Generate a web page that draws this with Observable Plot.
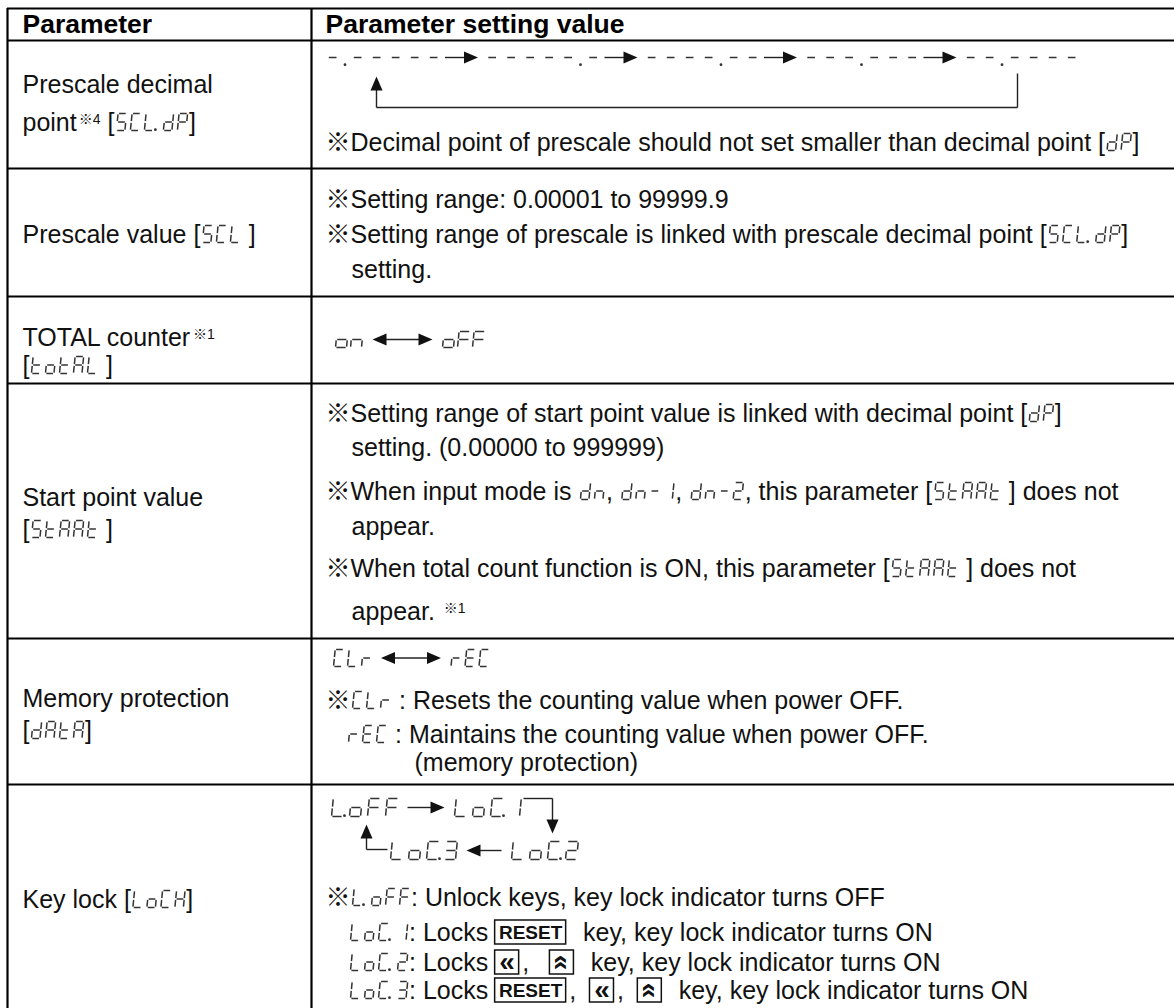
<!DOCTYPE html>
<html>
<head>
<meta charset="utf-8">
<script src="https://cdn.jsdelivr.net/npm/d3@7"></script>
<script src="https://cdn.jsdelivr.net/npm/@observablehq/plot@0.6"></script>
<style>
  html, body { margin: 0; padding: 0; background: #fff; }
  svg { display: block; }
</style>
</head>
<body>
<div id="chart"></div>
<script>
// ================= DATA (content only) =================
// Markup: {..} seven-segment display text, ^..^ superscript, <..> key box, → ← ↔ arrows
const headers = ["Parameter", "Parameter setting value"];

const parameterNames = [
  ["Prescale decimal", "point^※4^ [{5CL.dP}]"],
  ["Prescale value [{5CL }]"],
  ["TOTAL counter^※1^", "[{totAL }]"],
  ["Start point value", "[{5tARt }]"],
  ["Memory protection", "[{dAtA}]"],
  ["Key lock [{LoCK}]"]
];

const decimalPointSequence = ["-.-----", "-----.-", "----.--", "---.---", "--.----"];

const settingNotes = [
  ["※Decimal point of prescale should not set smaller than decimal point [{dP}]"],
  ["※Setting range: 0.00001 to 99999.9",
   "※Setting range of prescale is linked with prescale decimal point [{5CL.dP}]",
   "setting."],
  ["{on}↔{oFF}"],
  ["※Setting range of start point value is linked with decimal point [{dP}]",
   "setting. (0.00000 to 999999)",
   "※When input mode is {dn}, {dn-1}, {dn-2}, this parameter [{5tARt }] does not",
   "appear.",
   "※When total count function is ON, this parameter [{5tARt }] does not",
   "appear. ^※1^"],
  ["{CLr}↔{rEC}",
   "※{CLr }: Resets the counting value when power OFF.",
   "{rEC }: Maintains the counting value when power OFF.",
   "(memory protection)"],
  ["{L.oFF}→{LoC.1}",
   "{LoC.3}←{LoC.2}",
   "※{L.oFF}: Unlock keys, key lock indicator turns OFF",
   "{LoC.1}: Locks <RESET>  key, key lock indicator turns ON",
   "{LoC.2}: Locks <«>,   <︽>  key, key lock indicator turns ON",
   "{LoC.3}: Locks <RESET>,  <«>,  <︽>  key, key lock indicator turns ON"]
];

// seven-segment character map
const SEVEN = {"0":"abcdef","1":"bc","2":"abged","3":"abgcd","4":"fgbc","5":"afgcd","6":"afgedc","7":"abc","8":"abcdefg","9":"abcdfg",
  "A":"abcefg","R":"abcefg","C":"adef","d":"bcdeg","E":"adefg","F":"aefg","L":"def","P":"abefg","S":"afgcd",
  "t":"defg","o":"cdeg","n":"ceg","r":"eg","K":"bcefg","-":"g"};

// ================= LAYOUT / STYLE =================
const W = 1174, H = 1008;
const FONT = '"Liberation Sans", Arial, "Noto Sans CJK JP", sans-serif';
const BODY = 25, HEAD = 26.5, SUP = 14;
const table = {left: 7, right: 1180, top: 8, bottom: 1015, divider: 311};
const rowRules = [8, 40, 168, 296, 383, 638, 784];
const headerBaseline = 32;
const leftX = 22, rightX = 325;
const leftBaselines = [[92, 130], [242], [345, 373], [505, 537], [706, 738], [907]];
const rightPlacement = [
  [[325, 150, "sm"]],
  [[325, 207, "sm"], [325, 242, "sm"], [351, 277, "sm"]],
  [[333, 347, "mid"]],
  [[325, 421, "sm"], [351, 455, "sm"], [325, 499, "sm"], [351, 534, "sm"], [325, 576, "sm"], [351, 619, "sm"]],
  [[331, 666, "sm"], [325, 708, "sm"], [346, 742, "sm"], [414, 770, "sm"]],
  [[329, 816, "big"], [388, 859, "big"], [325, 905, "sm"], [348, 940, "sm"], [348, 970, "sm"], [348, 998, "sm"]]
];
const diagram = {x: 327, base: 65};
const METRICS = {
  sm:   {w: 8.5, h: 17, adv: 14, dotExtra: 5, dotOff: 2.5, space: 7, slant: 0.1},
  mid:  {w: 11,  h: 16, adv: 15, dotExtra: 2, dotOff: 2.5, space: 9, slant: 0.1},
  big:  {w: 11,  h: 18, adv: 18, dotExtra: 0, dotOff: 2,   space: 9, slant: 0.1},
  dash: {w: 9.5, h: 16, adv: 19, dotExtra: 6, dotOff: 8,   space: 9, slant: 0.05}
};
const ARROW_LEN = {"→": 37, "←": 35, "↔": 60};

// ================= ENGINE =================
const ctx = document.createElement("canvas").getContext("2d");
function measure(s, size, weight = "normal") {
  ctx.font = `${weight} ${size}px ${FONT}`;
  return ctx.measureText(s).width;
}

const out = {texts: [], sups: [], segs: [], dots: [], lines: [], keys: [], keyText: [], keyChev: [], keyRot: [],
  headR: [], headL: [], headU: [], headD: []};

function drawSeg(str, x, base, m) {
  const g = 0.9, h = m.h, hh = h / 2, w = m.w, sl = m.slant;
  const S = {a: [[g, h], [w - g, h]], b: [[w, h - g], [w, hh + g]], c: [[w, hh - g], [w, g]],
    d: [[g, 0], [w - g, 0]], e: [[0, hh - g], [0, g]], f: [[0, h - g], [0, hh + g]], g: [[g, hh], [w - g, hh]]};
  let gx = x, right = x;
  for (const ch of str) {
    if (ch === ".") {
      out.dots.push({x: right + m.dotOff, y: base - 0.8});
      right += 4; gx += m.dotExtra;
    } else if (ch === " ") {
      right += m.space; gx += m.space;
    } else {
      for (const k of (SEVEN[ch] || "")) {
        const [[ax, ay], [bx, by]] = S[k];
        out.segs.push({x1: gx + ax + sl * ay, y1: base - ay, x2: gx + bx + sl * by, y2: base - by});
      }
      right = gx + w; gx += m.adv;
    }
  }
  return right;
}

function drawArrow(xa, xb, y, kind) {
  const L = 13;
  const s = kind === "←" || kind === "↔" ? xa + L - 1 : xa;
  const e = kind === "→" || kind === "↔" ? xb - L + 1 : xb;
  out.lines.push({x1: s, y1: y, x2: e, y2: y});
  if (kind === "→" || kind === "↔") out.headR.push({x: xb, y});
  if (kind === "←" || kind === "↔") out.headL.push({x: xa, y});
}

function layoutLine(str, x, base, m, size = BODY, target = out.texts) {
  const re = /\{([^}]*)\}|\^([^^]*)\^|<([^>]*)>|([→←↔])|([^{^<→←↔]+)/g;
  let mm; const ranges = [];
  while ((mm = re.exec(str))) {
    if (mm[1] !== undefined) {
      const r = drawSeg(mm[1], x + 2, base, m); ranges.push([x + 2, r]); x = r + 3;
    } else if (mm[2] !== undefined) {
      x += 2; out.sups.push({x, y: base - 7, text: mm[2]}); x += measure(mm[2], SUP);
    } else if (mm[3] !== undefined) {
      const k = mm[3], bw = k === "RESET" ? 71 : 24;
      out.keys.push({x1: x, x2: x + bw, y1: base - 20, y2: base + 4});
      if (k === "︽") out.keyRot.push({x: x + bw / 2, y: base - 8, text: "«"});
      else if (k === "«") out.keyChev.push({x: x + bw / 2, y: base - 8, text: "«"});
      else out.keyText.push({x: x + bw / 2, y: base - 8, text: k});
      x += bw + 3;
    } else if (mm[4] !== undefined) {
      x += 8; const len = ARROW_LEN[mm[4]];
      drawArrow(x, x + len, base - m.h / 2, mm[4]); x += len + 8;
    } else {
      const s = mm[5]; const lead = s.length - s.trimStart().length; const t = s.trim();
      if (t) target.push({x: x + measure(s.slice(0, lead), size), y: base, text: t});
      x += measure(s, size);
    }
  }
  return ranges;
}

// header
const headTexts = [{x: leftX, y: headerBaseline, text: headers[0]}, {x: rightX, y: headerBaseline, text: headers[1]}];

// left column
parameterNames.forEach((lines, r) => lines.forEach((s, i) => layoutLine(s, leftX, leftBaselines[r][i], METRICS.sm)));

// right column
const rangesByRow = settingNotes.map((lines, r) => lines.map((s, i) => {
  const [x, b, mk] = rightPlacement[r][i];
  return layoutLine(s, x, b, METRICS[mk]);
}));

// row 1: decimal point sequence diagram
{
  let x = diagram.x; const starts = [];
  decimalPointSequence.forEach((g, i) => {
    starts.push(x);
    const r = drawSeg(g, x, diagram.base, METRICS.dash);
    if (i < decimalPointSequence.length - 1) {
      drawArrow(r + 7, r + 40, diagram.base - 8, "→");
      x = r + 49;
    }
  });
  const upX = starts[0] + 49, rX = starts[starts.length - 1] + 52;
  const tip = diagram.base + 11, low = diagram.base + 42;
  out.headU.push({x: upX, y: tip});
  out.lines.push({x1: upX, y1: tip + 12, x2: upX, y2: low});
  out.lines.push({x1: upX, y1: low, x2: rX, y2: low});
  out.lines.push({x1: rX, y1: low, x2: rX, y2: diagram.base + 8});
}

// row 6: key lock cycle connectors
{
  const [l0, l1] = [rangesByRow[5][0], rangesByRow[5][1]];
  const b0 = rightPlacement[5][0][1], b1 = rightPlacement[5][1][1];
  const loc1Right = l0[1][1];
  const downX = loc1Right + 33, topY = b0 - 18, dTip = b1 - 26;
  out.lines.push({x1: loc1Right + 4, y1: topY, x2: downX, y2: topY});
  out.lines.push({x1: downX, y1: topY, x2: downX, y2: dTip - 11});
  out.headD.push({x: downX, y: dTip});
  const upX = rightPlacement[5][0][0] + 37, uTip = b0 + 8, corner = b1 - 10;
  out.headU.push({x: upX, y: uTip});
  out.lines.push({x1: upX, y1: uTip + 11, x2: upX, y2: corner});
  out.lines.push({x1: upX, y1: corner, x2: l1[0][0] - 3, y2: corner});
}

// arrowhead symbols (tip at the point)
function headSymbol(dx, dy) {
  return {draw(c) {
    const L = 14, hw = 6, px = -dy, py = dx;
    c.moveTo(0, 0);
    c.lineTo(-dx * L + px * hw, -dy * L + py * hw);
    c.lineTo(-dx * L - px * hw, -dy * L - py * hw);
    c.closePath();
  }};
}

const hRules = rowRules.map(y => ({y, x1: table.left, x2: table.right}));
const vRules = [table.left, table.divider].map(x => ({x, y1: table.top, y2: table.bottom}));
const INK = "#111", SEGINK = "#333";
const KEYFONT = '"Liberation Sans", Arial, sans-serif';

const chart = Plot.plot({
  width: W, height: H, margin: 0,
  x: {domain: [0, W], range: [0, W], axis: null},
  y: {domain: [0, H], range: [0, H], axis: null},
  style: {background: "white", fontFamily: FONT, overflow: "visible"},
  marks: [
    Plot.ruleY(hRules, {y: "y", x1: "x1", x2: "x2", stroke: "black", strokeWidth: 2.2}),
    Plot.ruleX(vRules, {x: "x", y1: "y1", y2: "y2", stroke: "black", strokeWidth: 2.2}),
    Plot.text(headTexts, {x: "x", y: "y", text: "text", textAnchor: "start", lineAnchor: "bottom",
      fontSize: HEAD, fontWeight: "bold", fill: "black", fontFamily: FONT}),
    Plot.text(out.texts, {x: "x", y: "y", text: "text", textAnchor: "start", lineAnchor: "bottom",
      fontSize: BODY, fill: INK, fontFamily: FONT}),
    Plot.text(out.sups, {x: "x", y: "y", text: "text", textAnchor: "start", lineAnchor: "bottom",
      fontSize: SUP, fill: INK, fontFamily: FONT}),
    Plot.link(out.segs, {x1: "x1", y1: "y1", x2: "x2", y2: "y2", curve: "linear",
      stroke: SEGINK, strokeWidth: 1.5, strokeLinecap: "butt"}),
    Plot.dot(out.dots, {x: "x", y: "y", r: 1.4, fill: SEGINK, stroke: "none"}),
    Plot.link(out.lines, {x1: "x1", y1: "y1", x2: "x2", y2: "y2", curve: "linear",
      stroke: "#222", strokeWidth: 1.4}),
    Plot.dot(out.headR, {x: "x", y: "y", symbol: headSymbol(1, 0), fill: INK, stroke: "none", r: 5}),
    Plot.dot(out.headL, {x: "x", y: "y", symbol: headSymbol(-1, 0), fill: INK, stroke: "none", r: 5}),
    Plot.dot(out.headU, {x: "x", y: "y", symbol: headSymbol(0, -1), fill: INK, stroke: "none", r: 5}),
    Plot.dot(out.headD, {x: "x", y: "y", symbol: headSymbol(0, 1), fill: INK, stroke: "none", r: 5}),
    Plot.rect(out.keys, {x1: "x1", x2: "x2", y1: "y1", y2: "y2", fill: "white", stroke: INK, strokeWidth: 1.5}),
    Plot.text(out.keyText, {x: "x", y: "y", text: "text", textAnchor: "middle", lineAnchor: "middle",
      fontSize: 19, fontWeight: "bold", fill: INK, fontFamily: KEYFONT}),
    Plot.text(out.keyChev, {x: "x", y: "y", text: "text", textAnchor: "middle", lineAnchor: "middle",
      fontSize: 28, fontWeight: "bold", fill: INK, fontFamily: KEYFONT}),
    Plot.text(out.keyRot, {x: "x", y: "y", text: "text", rotate: 90, textAnchor: "middle", lineAnchor: "middle",
      fontSize: 28, fontWeight: "bold", fill: INK, fontFamily: KEYFONT})
  ]
});
document.getElementById("chart").appendChild(chart);
</script>
</body>
</html>
